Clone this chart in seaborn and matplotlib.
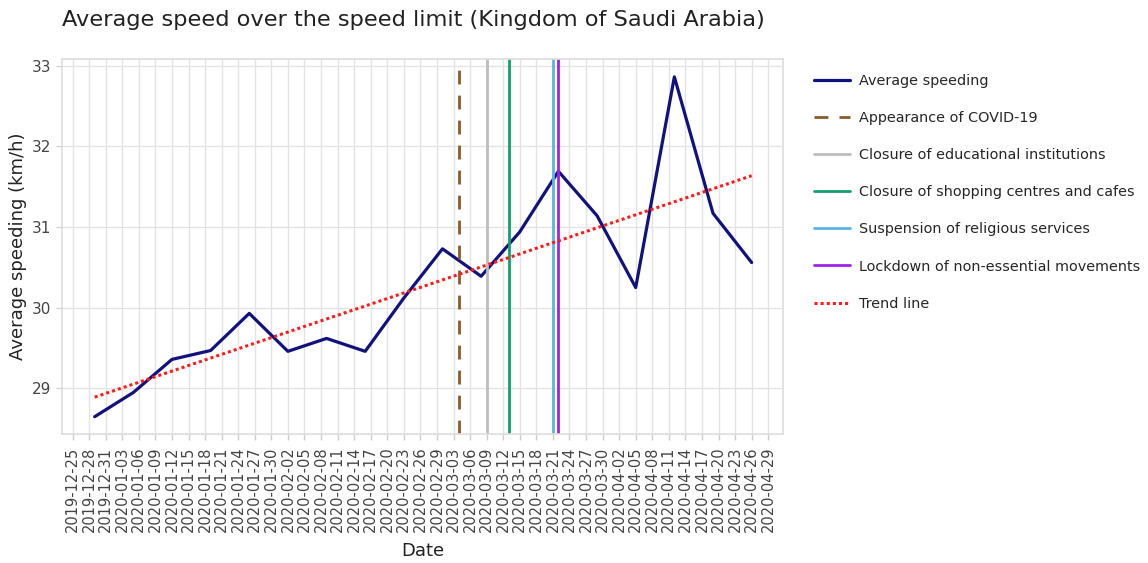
import numpy as np
import pandas as pd
import seaborn as sns
import matplotlib
matplotlib.use("Agg")
import matplotlib.pyplot as plt
import matplotlib.dates as mdates

# weekly data
dates = ["2019-12-29", "2020-01-05", "2020-01-12", "2020-01-19", "2020-01-26",
         "2020-02-02", "2020-02-09", "2020-02-16", "2020-02-23", "2020-03-01",
         "2020-03-08", "2020-03-15", "2020-03-22", "2020-03-29", "2020-04-05",
         "2020-04-12", "2020-04-19", "2020-04-26"]
speeding = [28.65, 28.95, 29.36, 29.47, 29.93, 29.46, 29.62, 29.46, 30.12,
            30.73, 30.39, 30.94, 31.69, 31.14, 30.25, 32.86, 31.17, 30.56]

event_names = ["Appearance of COVID-19", "Closure of educational institutions",
               "Closure of shopping centres and cafes", "Suspension of religious services",
               "Lockdown of non-essential movements"]
event_dates = ["2020-03-04", "2020-03-09", "2020-03-13", "2020-03-21", "2020-03-22"]
event_colors = ["#8c5a2b", "#bdbdbd", "#159e72", "#5ab4e6", "#a020f0"]
event_styles = [(0, (5, 4)), "-", "-", "-", "-"]

df = pd.DataFrame({"Date": pd.to_datetime(dates), "speed": speeding})

# linear trend
xnum = mdates.date2num(df["Date"])
coef = np.polyfit(xnum, df["speed"], 1)
df["trend"] = np.polyval(coef, xnum)

sns.set_style("whitegrid")
plt.rcParams["font.family"] = ["DejaVu Sans"]

fig, ax = plt.subplots(figsize=(11.48, 5.63), dpi=100)
fig.subplots_adjust(left=0.054, right=0.682, top=0.895, bottom=0.229)

sns.lineplot(data=df, x="Date", y="speed", ax=ax, color="#12127e", linewidth=2.3,
             label="Average speeding")
for name, d, c, ls in zip(event_names, event_dates, event_colors, event_styles):
    ax.axvline(pd.to_datetime(d), color=c, linestyle=ls, linewidth=2.0, label=name)
sns.lineplot(data=df, x="Date", y="trend", ax=ax, color="#ff1a1a", linewidth=2.2,
             linestyle=(0, (1, 1)), label="Trend line")

ticks = pd.date_range("2019-12-25", "2020-04-29", freq="3D")
ax.set_xticks(ticks)
ax.xaxis.set_major_formatter(mdates.DateFormatter("%Y-%m-%d"))
ax.set_xlim(pd.Timestamp("2019-12-23 02:00"), pd.Timestamp("2020-05-01 16:00"))
ax.set_ylim(28.435, 33.08)
ax.set_yticks([29, 30, 31, 32, 33])

ax.tick_params(axis="x", rotation=90, labelsize=10.5, colors="#444444", length=4,
               width=1, direction="out", bottom=True, color="#cccccc", pad=5)
ax.tick_params(axis="y", labelsize=11, colors="#444444", length=4, left=True,
               color="#cccccc")
ax.grid(True, color="#e3e3e3", linewidth=1)
for s in ax.spines.values():
    s.set_color("#dddddd")
    s.set_linewidth(1.2)

ax.set_xlabel("Date", fontsize=13, color="#222222", labelpad=7)
ax.set_ylabel("Average speeding (km/h)", fontsize=13, color="#222222")

fig.text(62 / 1148, 1 - 20 / 563, "Average speed over the speed limit (Kingdom of Saudi Arabia)",
         fontsize=16.2, va="center", ha="left", color="#222222")

ax.legend(loc="upper left", bbox_to_anchor=(1.025, 0.995), frameon=False, fontsize=10.4,
          labelspacing=1.6, handlelength=2.5, handletextpad=0.65)

fig.savefig("out.png", dpi=100)
